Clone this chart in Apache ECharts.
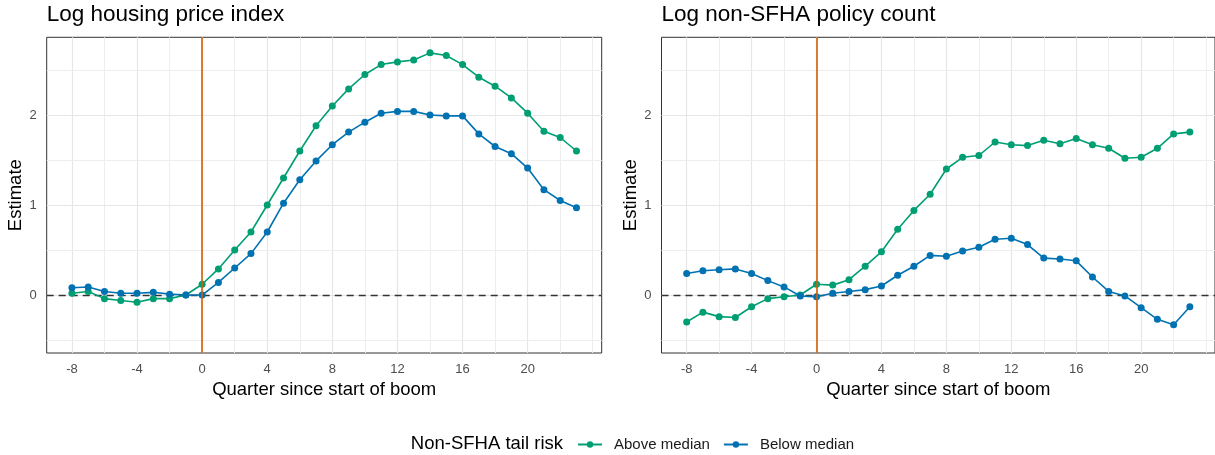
<!DOCTYPE html>
<html>
<head>
<meta charset="utf-8">
<script src="https://cdn.jsdelivr.net/npm/echarts@6/dist/echarts.min.js"></script>
<style>
html,body{margin:0;padding:0;background:#fff;}
#chart{width:1215px;height:455px;}
</style>
</head>
<body>
<div id="chart"></div>
<script>
// ---- data ----
var quarters = [-8,-7,-6,-5,-4,-3,-2,-1,0,1,2,3,4,5,6,7,8,9,10,11,12,13,14,15,16,17,18,19,20,21,22,23];
var hpiAbove = [0.02,0.04,-0.04,-0.06,-0.08,-0.04,-0.04,0.00,0.12,0.29,0.50,0.70,1.00,1.30,1.60,1.88,2.10,2.29,2.45,2.56,2.59,2.61,2.69,2.66,2.56,2.42,2.32,2.19,2.02,1.82,1.75,1.60];
var hpiBelow = [0.08,0.09,0.04,0.02,0.02,0.03,0.01,0.00,0.00,0.14,0.30,0.46,0.70,1.02,1.28,1.49,1.67,1.81,1.92,2.02,2.04,2.04,2.00,1.99,1.99,1.79,1.65,1.57,1.41,1.17,1.05,0.97];
var cntAbove = [-0.30,-0.19,-0.24,-0.25,-0.13,-0.04,-0.02,0.00,0.12,0.11,0.17,0.32,0.48,0.73,0.94,1.12,1.40,1.53,1.55,1.70,1.67,1.66,1.72,1.68,1.74,1.67,1.63,1.52,1.53,1.63,1.79,1.81];
var cntBelow = [0.24,0.27,0.28,0.29,0.24,0.16,0.09,-0.01,-0.02,0.02,0.04,0.06,0.10,0.22,0.32,0.44,0.43,0.49,0.53,0.62,0.63,0.56,0.41,0.40,0.38,0.20,0.04,-0.01,-0.14,-0.27,-0.33,-0.13];
var panelTitles = ["Log housing price index","Log non-SFHA policy count"];
var seriesNames = ["Above median","Below median"];
var legendTitle = "Non-SFHA tail risk";
var xTicks = [-8,-4,0,4,8,12,16,20];
var xMinor = [-6,-2,2,6,10,14,18,22,24];
var yTicks = [0,1,2];
var yMinor = [-0.5,0.5,1.5,2.5];
var xLimits = [-9.55,24.55];
var yLimits = [-0.644,2.863];
var boomStart = 0;
var refLevel = 0;

// ---- style ----
var FONT = "Liberation Sans, Arial, Helvetica, sans-serif";
var GREEN = "#009E73", BLUE = "#0072B2", ORANGE = "#D55E00";
var panels = [
  {left:46.7, top:37.3, width:555, height:315.7},
  {left:661.5, top:37.3, width:556, height:315.7}
];
var panelData = [[hpiAbove,hpiBelow],[cntAbove,cntBelow]];

function pairs(vals){ return quarters.map(function(q,i){return [q, vals[i]];}); }

var grids=[], xAxes=[], yAxes=[], series=[], graphics=[];
panels.forEach(function(p, k){
  grids.push({left:p.left, top:p.top, width:p.width, height:p.height, show:true,
    backgroundColor:'#ffffff', borderColor:'#333333', borderWidth:1, containLabel:false});
  xAxes.push({gridIndex:k, type:'value', min:xLimits[0], max:xLimits[1],
    axisLine:{show:false},
    axisTick:{show:true, customValues:xTicks, length:4, lineStyle:{color:'#333333', width:1}},
    axisLabel:{customValues:xTicks, color:'#4D4D4D', fontSize:13, fontFamily:FONT, margin:10},
    splitLine:{show:false},
    name:'Quarter since start of boom', nameLocation:'middle', nameGap:27,
    nameTextStyle:{color:'#000', fontSize:18.5, fontFamily:FONT}
  });
  yAxes.push({gridIndex:k, type:'value', min:yLimits[0], max:yLimits[1],
    axisLine:{show:false},
    axisTick:{show:true, customValues:yTicks, length:4, lineStyle:{color:'#333333', width:1}},
    axisLabel:{customValues:yTicks, color:'#4D4D4D', fontSize:13, fontFamily:FONT, margin:10},
    splitLine:{show:false},
    name:'Estimate', nameLocation:'middle', nameGap:21, nameRotate:90,
    nameTextStyle:{color:'#000', fontSize:18.5, fontFamily:FONT}
  });
  // gridlines
  var gl = [];
  xTicks.forEach(function(v){ gl.push({xAxis:v, lineStyle:{color:'#E6E6E6', width:1.2, type:'solid'}}); });
  xMinor.forEach(function(v){ gl.push({xAxis:v, lineStyle:{color:'#EEEEEE', width:1, type:'solid'}}); });
  yTicks.forEach(function(v){ gl.push({yAxis:v, lineStyle:{color:'#E6E6E6', width:1.2, type:'solid'}}); });
  yMinor.forEach(function(v){ gl.push({yAxis:v, lineStyle:{color:'#EEEEEE', width:1, type:'solid'}}); });
  series.push({type:'line', name:'_grid'+k, xAxisIndex:k, yAxisIndex:k, data:[], z:1, silent:true,
    markLine:{z:1, silent:true, symbol:['none','none'], label:{show:false}, animation:false, data:gl}});
  series.push({type:'line', name:'_zero'+k, xAxisIndex:k, yAxisIndex:k, data:[], z:2, silent:true,
    markLine:{z:2, silent:true, symbol:['none','none'], label:{show:false}, animation:false,
      data:[{yAxis:refLevel, lineStyle:{color:'#333333', width:1.3, type:[7,5]}}]}});
  [GREEN, BLUE].forEach(function(c, j){
    series.push({type:'line', name:seriesNames[j], xAxisIndex:k, yAxisIndex:k,
      data:pairs(panelData[k][j]), z:3, symbol:'circle', symbolSize:7, showSymbol:true,
      lineStyle:{color:c, width:1.6}, itemStyle:{color:c}, animation:false});
  });
  series.push({type:'line', name:'_boom'+k, xAxisIndex:k, yAxisIndex:k, data:[], z:5, silent:true,
    markLine:{z:6, silent:true, symbol:['none','none'], label:{show:false}, animation:false,
      data:[{xAxis:boomStart, lineStyle:{color:ORANGE, width:1.6, type:'solid'}}]}});
  graphics.push({type:'text', x:p.left, y:15, silent:true,
    style:{text:panelTitles[k], font:'22.5px '+FONT, fill:'#000', align:'left', verticalAlign:'middle'}});
});
graphics.push({type:'text', x:563, y:444, silent:true,
  style:{text:legendTitle, font:'18.5px '+FONT, fill:'#000', align:'right', verticalAlign:'middle'}});

var chart = echarts.init(document.getElementById('chart'), null, {renderer:'canvas'});
chart.setOption({
  animation:false,
  backgroundColor:'#ffffff',
  grid:grids, xAxis:xAxes, yAxis:yAxes, series:series, graphic:graphics,
  legend:{data:seriesNames, left:577, top:437, padding:0, itemWidth:24, itemHeight:8, itemGap:13,
    textStyle:{fontSize:15, fontFamily:FONT, color:'#1a1a1a', padding:[0,0,0,7]}},
  tooltip:{show:false}
});
</script>
</body>
</html>
